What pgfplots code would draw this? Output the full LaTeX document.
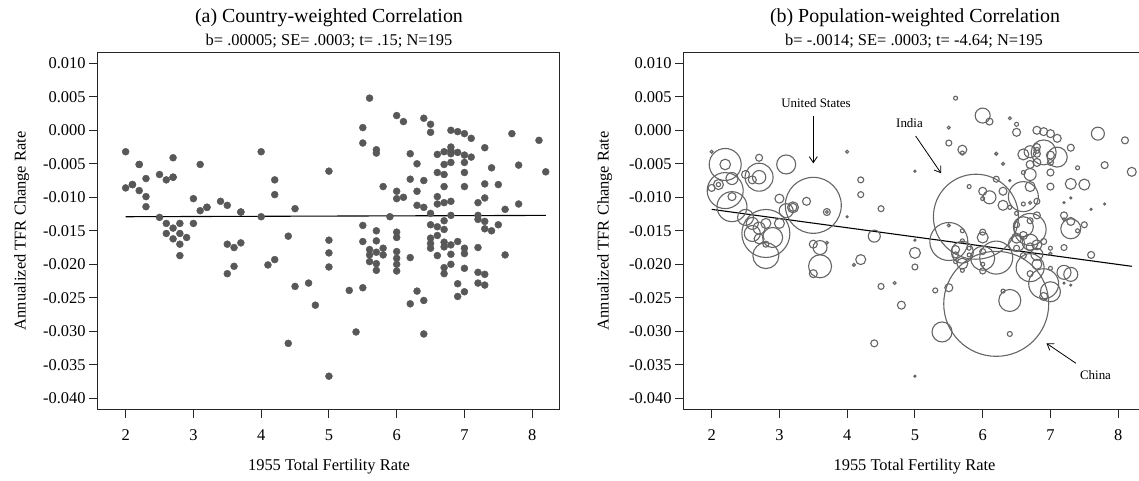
\documentclass[border=0pt]{standalone}
\usepackage{fontspec}
\setmainfont{Liberation Serif}
\usepackage{pgfplots}
\usepackage{pgfplotstable}
\pgfplotsset{compat=1.18}
\usetikzlibrary{arrows.meta}

\definecolor{dotgray}{HTML}{585858}
\definecolor{bubble}{HTML}{656565}
\definecolor{frame}{HTML}{262626}
\newcommand\lab{\fontsize{16.5}{19}\selectfont}
\newcommand\ttl{\fontsize{20}{23}\selectfont}
\newcommand\ann{\fontsize{13}{15}\selectfont}

% x = 1955 TFR, y = annualized TFR change, r = bubble radius (population weight)
\pgfplotstableread{
x y r
2.0 -0.0032 1.5
2.0 -0.0086 3.5
2.1 -0.0081 5
2.1 -0.0081 2.2
2.2 -0.0051 16
2.2 -0.0051 5.3
2.2 -0.0090 18
2.3 -0.0072 6
2.3 -0.0099 4
2.3 -0.0114 15
2.5 -0.0066 4
2.5 -0.0130 8
2.6 -0.0074 4
2.6 -0.0139 6
2.6 -0.0154 8
2.7 -0.0041 3.5
2.7 -0.0070 14
2.7 -0.0070 6.7
2.7 -0.0146 6
2.7 -0.0162 5
2.8 -0.0139 5
2.8 -0.0154 24
2.8 -0.0170 3
2.8 -0.0187 13
2.9 -0.0160 10
3.0 -0.0102 4.5
3.0 -0.0139 5
3.1 -0.0051 9.5
3.1 -0.0120 7
3.2 -0.0115 5.5
3.2 -0.0115 4
3.4 -0.0106 4
3.5 -0.0112 28
3.5 -0.0170 4
3.5 -0.0214 4
3.6 -0.0175 7
3.6 -0.0203 11.5
3.7 -0.0122 3.5
3.7 -0.0122 1.5
3.7 -0.0168 1.5
4.0 -0.0032 1.5
4.0 -0.0129 1
4.1 -0.0201 1.5
4.2 -0.0074 3
4.2 -0.0096 3
4.2 -0.0193 5
4.4 -0.0158 6
4.4 -0.0318 3.5
4.5 -0.0117 3
4.5 -0.0233 3
4.7 -0.0228 1.5
4.8 -0.0261 4
5.0 -0.0061 1
5.0 -0.0164 1
5.0 -0.0183 5.5
5.0 -0.0204 3
5.0 -0.0367 1
5.3 -0.0239 2.5
5.4 -0.0301 10
5.5 0.0004 1.5
5.5 -0.0019 3
5.5 -0.0142 1.5
5.5 -0.0166 19
5.5 -0.0235 4
5.6 0.0048 2
5.6 -0.0178 4
5.6 -0.0186 3
5.6 -0.0196 2
5.7 -0.0029 4.5
5.7 -0.0034 2
5.7 -0.0150 2
5.7 -0.0165 2
5.7 -0.0182 11
5.7 -0.0199 5.5
5.7 -0.0209 2
5.8 -0.0084 2
5.8 -0.0176 2
5.8 -0.0186 2
5.9 -0.0129 42.5
6.0 0.0022 7.5
6.0 -0.0091 4
6.0 -0.0102 2
6.0 -0.0152 3
6.0 -0.0160 5.5
6.0 -0.0181 3
6.0 -0.0191 12
6.0 -0.0200 2
6.0 -0.0210 3
6.1 0.0013 3.5
6.1 -0.0100 6.5
6.2 -0.0035 1.5
6.2 -0.0073 3
6.2 -0.0190 16.5
6.2 -0.0259 52.5
6.3 -0.0050 1.5
6.3 -0.0091 4
6.3 -0.0112 5
6.3 -0.0240 2
6.4 0.0018 1.5
6.4 -0.0075 1
6.4 -0.0115 2
6.4 -0.0254 11
6.4 -0.0304 2.5
6.5 0.0009 2
6.5 -0.0003 4
6.5 -0.0124 2
6.5 -0.0141 3
6.5 -0.0161 5
6.5 -0.0169 8
6.5 -0.0176 3
6.6 -0.0036 5.5
6.6 -0.0063 2
6.6 -0.0099 15
6.6 -0.0110 2
6.6 -0.0144 10
6.6 -0.0157 4
6.6 -0.0187 3
6.7 -0.0032 6
6.7 -0.0051 4
6.7 -0.0066 6
6.7 -0.0084 5
6.7 -0.0108 1.5
6.7 -0.0135 3
6.7 -0.0148 16
6.7 -0.0167 8
6.7 -0.0174 4
6.7 -0.0205 14
6.7 -0.0214 3
6.8 0.0000 4
6.8 -0.0025 3.5
6.8 -0.0030 3
6.8 -0.0035 3.5
6.8 -0.0048 4
6.8 -0.0106 3
6.8 -0.0127 3.5
6.8 -0.0171 5
6.8 -0.0185 6
6.8 -0.0200 5
6.9 -0.0002 4
6.9 -0.0033 12.5
6.9 -0.0166 3
6.9 -0.0229 15
6.9 -0.0248 4
7.0 -0.0005 4
7.0 -0.0037 4
7.0 -0.0048 3
7.0 -0.0063 3.5
7.0 -0.0084 3.5
7.0 -0.0176 2
7.0 -0.0184 1.5
7.0 -0.0206 2
7.0 -0.0241 10
7.1 -0.0012 4
7.1 -0.0040 10
7.2 -0.0108 1
7.2 -0.0127 3.5
7.2 -0.0133 1.5
7.2 -0.0175 3
7.2 -0.0212 7
7.2 -0.0228 1
7.3 -0.0026 3.5
7.3 -0.0080 5.5
7.3 -0.0101 1
7.3 -0.0136 4
7.3 -0.0147 10
7.3 -0.0215 7
7.3 -0.0231 1
7.4 -0.0056 2
7.4 -0.0150 2
7.5 -0.0081 5.5
7.5 -0.0141 3
7.6 -0.0118 1
7.6 -0.0186 3.5
7.7 -0.0005 6.5
7.8 -0.0052 3.5
7.8 -0.0110 1
8.1 -0.0015 3.5
8.2 -0.0062 4.5
}\tfrdata

\pgfplotsset{
  panel/.style={
    scale only axis,
    width=461.7bp, height=357bp,
    xmin=1.586, xmax=8.40,
    ymin=-0.041642, ymax=0.011642,
    xtick={2,3,4,5,6,7,8},
    ytick={-0.04,-0.035,-0.03,-0.025,-0.02,-0.015,-0.01,-0.005,0,0.005,0.01},
    scaled y ticks=false,
    xtick pos=left, ytick pos=left,
    tick align=outside,
    major tick length=8.5bp,
    axis line style={frame, line width=0.9bp},
    tick style={frame, line width=0.9bp},
    tick label style={font=\lab},
    /pgf/number format/assume math mode=true,
    yticklabel style={/pgf/number format/.cd, fixed, fixed zerofill, precision=3},
    xticklabel style={yshift=-8bp, /pgf/number format/.cd, fixed, precision=0},
  }
}

\begin{document}
\begin{tikzpicture}
\useasboundingbox (0,0) rectangle (1139bp,481bp);

\begin{axis}[panel, at={(97.6bp,71.7bp)}, anchor=south west]
\addplot[only marks, mark=*, mark size=3.5bp, color=dotgray] table[x=x, y=y] {\tfrdata};
\addplot[black, line width=1.1bp] coordinates {(2,-0.0129) (8.2,-0.0127)};
\end{axis}

\begin{axis}[panel, at={(683.6bp,71.7bp)}, anchor=south west]
\addplot[scatter, only marks, mark=o, line width=1.1bp,
  scatter/use mapped color={draw=bubble, fill=none},
  visualization depends on={\thisrow{r} \as \rr},
  scatter/@pre marker code/.append style={/tikz/mark size=\rr bp}]
  table[x=x, y=y] {\tfrdata};
\addplot[black, line width=1.1bp] coordinates {(2,-0.0118) (8.2,-0.0203)};
\node[font=\ann] at (axis cs:3.54,0.00412) {United States};
\draw[-{Straight Barb[length=6bp,width=8bp]}, line width=0.8bp] (axis cs:3.5,0.00213) -- (axis cs:3.5,-0.00493);
\node[font=\ann] at (axis cs:4.92,0.00104) {India};
\draw[-{Straight Barb[length=6bp,width=8bp]}, line width=0.8bp] (axis cs:5.01,-0.00085) -- (axis cs:5.387,-0.00642);
\node[font=\ann] at (axis cs:7.665,-0.0366) {China};
\draw[-{Straight Barb[length=6bp,width=8bp]}, line width=0.8bp] (axis cs:7.377,-0.03478) -- (axis cs:6.941,-0.03179);
\end{axis}

% titles and axis labels
\node[font=\ttl] at (329bp,463bp) {(a) Country-weighted Correlation};
\node[font=\lab] at (329bp,439.5bp) {b= .00005; SE= .0003; t= .15; N=195};
\node[font=\ttl] at (915bp,463bp) {(b) Population-weighted Correlation};
\node[font=\lab] at (914bp,439.5bp) {b= -.0014; SE= .0003; t= -4.64; N=195};
\node[font=\lab] at (329bp,14bp) {1955 Total Fertility Rate};
\node[font=\lab] at (914.5bp,14bp) {1955 Total Fertility Rate};
\node[font=\lab, rotate=90] at (21.7bp,250.2bp) {Annualized TFR Change Rate};
\node[font=\lab, rotate=90] at (604.6bp,250.2bp) {Annualized TFR Change Rate};
\end{tikzpicture}
\end{document}
